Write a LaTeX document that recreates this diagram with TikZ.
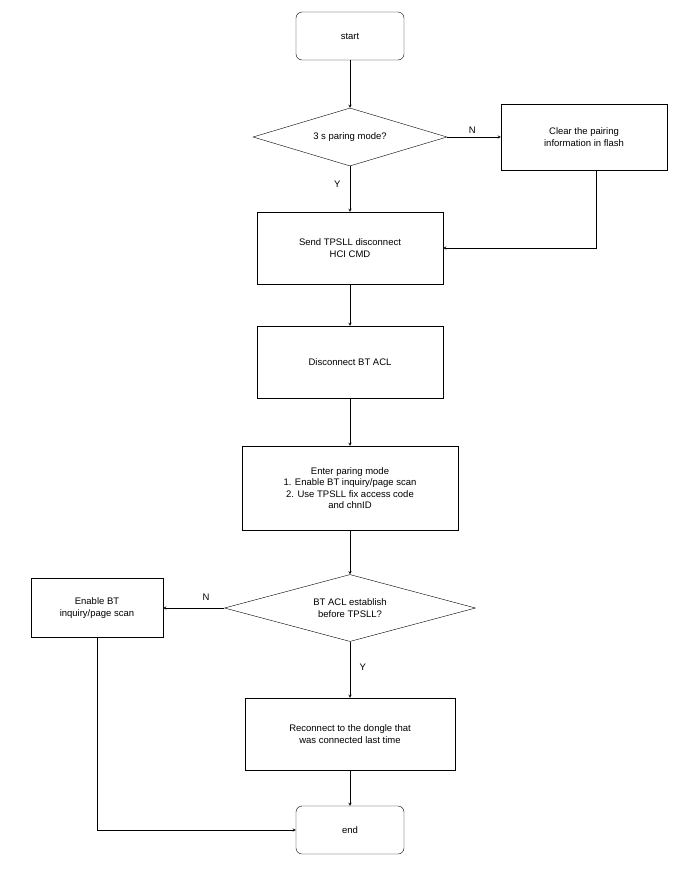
\documentclass[tikz,border=0pt]{standalone}
\usepackage{fontspec}
\setmainfont{Liberation Sans}
\usetikzlibrary{positioning, shapes.geometric, arrows}

\begin{document}
\begin{tikzpicture}[x=1pt, y=-1pt,
        font = \fontsize{9.5}{11.5}\selectfont,
       term/.style = {rectangle, rounded corners=6pt, draw, minimum width=108pt, minimum height=48pt},
       proc/.style = {rectangle, draw, align=center, minimum width=186pt, minimum height=72pt},
        dec/.style = {diamond, draw, align=center, aspect=3.3, inner sep=1pt},
        arr/.style = {->, >=stealth}
                        ]
\useasboundingbox (0,0) rectangle (696,876);
\node (start) [term] at (350,36) {start};
\node (pair)  [dec, minimum width=194pt, minimum height=58pt] at (350,137) {3 s paring mode?};
\node (clear) [proc, minimum width=166pt, minimum height=66pt] at (584,137) {Clear the pairing\\information in flash};
\node (send)  [proc] at (350,248) {Send TPSLL disconnect\\HCI CMD};
\node (disc)  [proc] at (350,362) {Disconnect BT ACL};
\node (enter) [proc, minimum width=216pt, minimum height=84pt] at (350,488) {Enter paring mode\\1. Enable BT inquiry/page scan\\2. Use TPSLL fix access code\\and chnID};
\node (acl)   [dec, minimum width=251pt, minimum height=67pt] at (350,608) {BT ACL establish\\before TPSLL?};
\node (scan)  [proc, minimum width=132pt, minimum height=59pt] at (97,608) {Enable BT\\inquiry/page scan};
\node (recon) [proc, minimum width=210pt] at (350,734) {Reconnect to the dongle that\\was connected last time};
\node (end)   [term] at (350,830) {end};
\draw[arr] (start) to (pair);
\draw[arr] (pair) to node[pos=0.3, above right=0pt and 2pt] {N} (clear);
\draw[arr] (pair) to node[pos=0.4, left=6pt] {Y} (send);
\draw[arr] (clear.south -| 596,0) |- (send.east);
\draw[arr] (send) to (disc);
\draw[arr] (disc) to (enter);
\draw[arr] (enter) to (acl);
\draw[arr] (acl) to node[pos=0.3, above=4pt] {N} (scan);
\draw[arr] (acl) to node[pos=0.45, right=6pt] {Y} (recon);
\draw[arr] (recon) to (end);
\draw[arr] (scan) |- (end);
\end{tikzpicture}
\end{document}
